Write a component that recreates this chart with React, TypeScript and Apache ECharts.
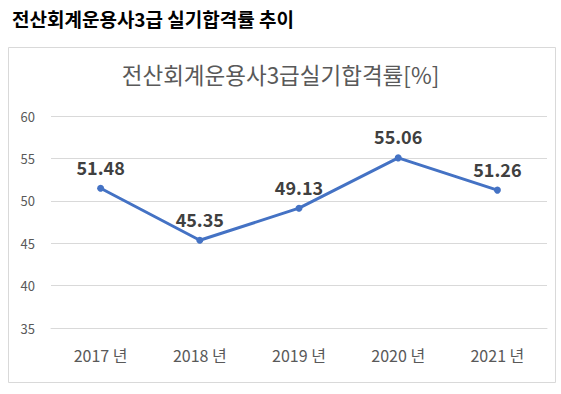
import React, { useEffect, useRef } from "react";
import * as echarts from "echarts";

const categories = ["2017 년", "2018 년", "2019 년", "2020 년", "2021 년"];
const passRates = [51.48, 45.35, 49.13, 55.06, 51.26];
const yMin = 35;
const yMax = 60;
const yInterval = 5;

export default function App() {
  const ref = useRef<HTMLDivElement>(null);
  useEffect(() => {
    if (!ref.current) return;
    const chart = echarts.init(ref.current, undefined, { renderer: "svg" });
    chart.setOption({
      animation: false,
      backgroundColor: "#ffffff",
      title: [
        {
          text: "전산회계운용사3급 실기합격률 추이",
          left: 7,
          top: 4,
          textStyle: {
            fontFamily: "Noto Sans CJK KR",
            fontWeight: "bold",
            fontSize: 19,
            color: "#000000",
          },
        },
        {
          text: "전산회계운용사3급실기합격률[%]",
          left: "center",
          top: 58,
          textStyle: {
            fontFamily: "Noto Sans CJK KR",
            fontWeight: "normal",
            fontSize: 22.5,
            color: "#595959",
          },
        },
      ],
      graphic: [
        {
          type: "rect",
          shape: { x: 8.5, y: 47.5, width: 547, height: 335 },
          style: { fill: "none", stroke: "#d9d9d9", lineWidth: 1 },
          z: -1,
        },
      ],
      grid: { left: 51, right: 14, top: 116, bottom: 66 },
      xAxis: {
        type: "category",
        data: categories,
        boundaryGap: true,
        axisLine: { show: true, lineStyle: { color: "#d9d9d9" } },
        axisTick: { show: false },
        axisLabel: {
          color: "#595959",
          fontSize: 16,
          fontFamily: "Noto Sans CJK KR",
          margin: 19,
        },
      },
      yAxis: {
        type: "value",
        min: yMin,
        max: yMax,
        interval: yInterval,
        axisLine: { show: false },
        axisTick: { show: false },
        splitLine: { lineStyle: { color: "#d9d9d9" } },
        axisLabel: {
          color: "#595959",
          fontSize: 13,
          fontFamily: "Noto Sans CJK KR",
          margin: 16,
        },
      },
      series: [
        {
          type: "line",
          data: passRates,
          symbol: "circle",
          symbolSize: 7,
          lineStyle: { color: "#4472C4", width: 3 },
          itemStyle: { color: "#4472C4" },
          label: {
            show: true,
            position: "top",
            distance: 9,
            fontSize: 18,
            fontWeight: "bold",
            color: "#404040",
            fontFamily: "Noto Sans CJK KR",
          },
        },
      ],
    });
    return () => chart.dispose();
  }, []);
  return (
    <div
      ref={ref}
      style={{ position: "fixed", left: 0, top: 0, width: 561, height: 394 }}
    />
  );
}
